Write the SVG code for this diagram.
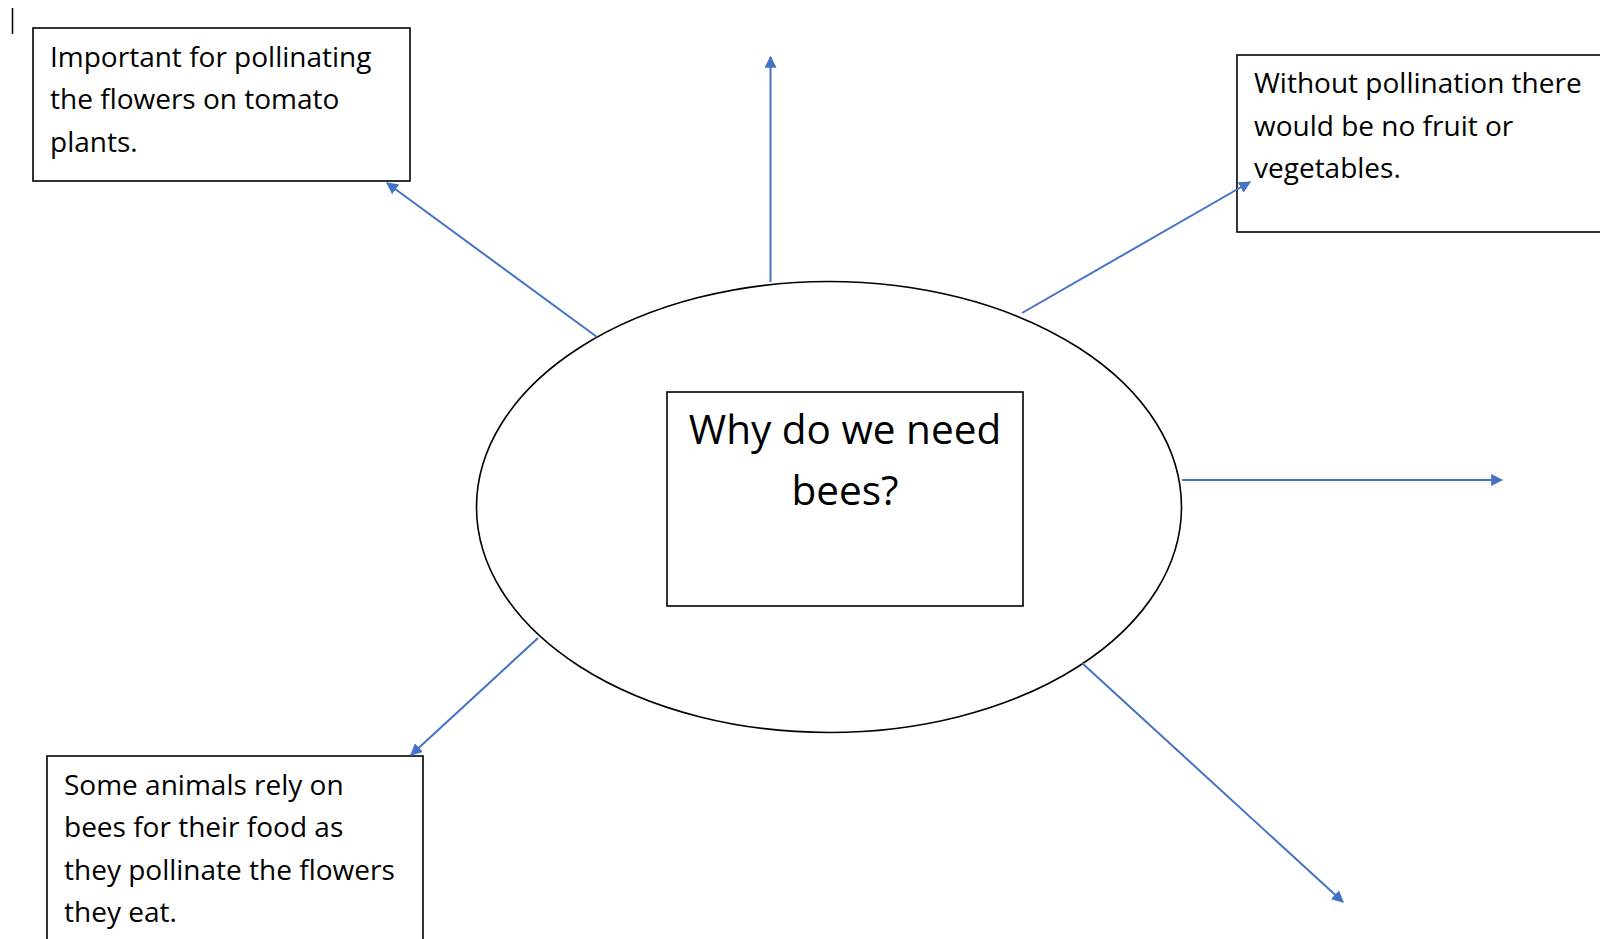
<svg xmlns="http://www.w3.org/2000/svg" width="1600" height="939" viewBox="0 0 1600 939">
<defs>
<style>
.box{fill:#fff;stroke:#000;stroke-width:1.6}
.t{font-family:"Open Sans","Liberation Sans",sans-serif;font-size:28px;fill:#000}
.c{font-family:"Open Sans","Liberation Sans",sans-serif;font-size:40.5px;fill:#000;text-anchor:middle}
.a{stroke:#4472C4;stroke-width:2;fill:none;marker-end:url(#ah)}
</style>
<marker id="ah" viewBox="0 0 10 10" refX="9" refY="5" markerWidth="6" markerHeight="6" markerUnits="strokeWidth" orient="auto">
<path d="M0,0 L10,5 L0,10 Z" fill="#4472C4"/>
</marker>
</defs>
<rect width="1600" height="939" fill="#fff"/>
<line x1="12.5" y1="8" x2="12.5" y2="34" stroke="#000" stroke-width="1.5"/>
<g id="center">
<ellipse cx="829" cy="507" rx="352.5" ry="225.5" fill="#fff" stroke="#000" stroke-width="1.6"/>
<rect class="box" x="667" y="392" width="356" height="214"/>
<text class="c" x="845" y="444">Why do we need</text>
<text class="c" x="845" y="505">bees?</text>
</g>
<g id="node-tomato">
<rect class="box" x="33" y="28" width="377" height="153"/>
<text class="t" x="50" y="67">Important for pollinating</text>
<text class="t" x="50" y="109">the flowers on tomato</text>
<text class="t" x="50" y="152">plants.</text>
</g>
<g id="node-fruit">
<rect class="box" x="1237" y="55" width="380" height="177"/>
<text class="t" x="1254" y="93">Without pollination there</text>
<text class="t" x="1254" y="136">would be no fruit or</text>
<text class="t" x="1254" y="178">vegetables.</text>
</g>
<g id="node-animals">
<rect class="box" x="47" y="756" width="376" height="200"/>
<text class="t" x="64" y="795">Some animals rely on</text>
<text class="t" x="64" y="837">bees for their food as</text>
<text class="t" x="64" y="880">they pollinate the flowers</text>
<text class="t" x="64" y="922">they eat.</text>
</g>
<g id="connectors">
<line class="a" x1="597" y1="337" x2="387" y2="183"/>
<line class="a" x1="770.5" y1="282" x2="770.5" y2="57"/>
<line class="a" x1="1022" y1="313" x2="1250" y2="182"/>
<line class="a" x1="1182" y1="480" x2="1502" y2="480"/>
<line class="a" x1="1082" y1="663" x2="1343" y2="902"/>
<line class="a" x1="538" y1="638" x2="411" y2="755"/>
</g>
</svg>
